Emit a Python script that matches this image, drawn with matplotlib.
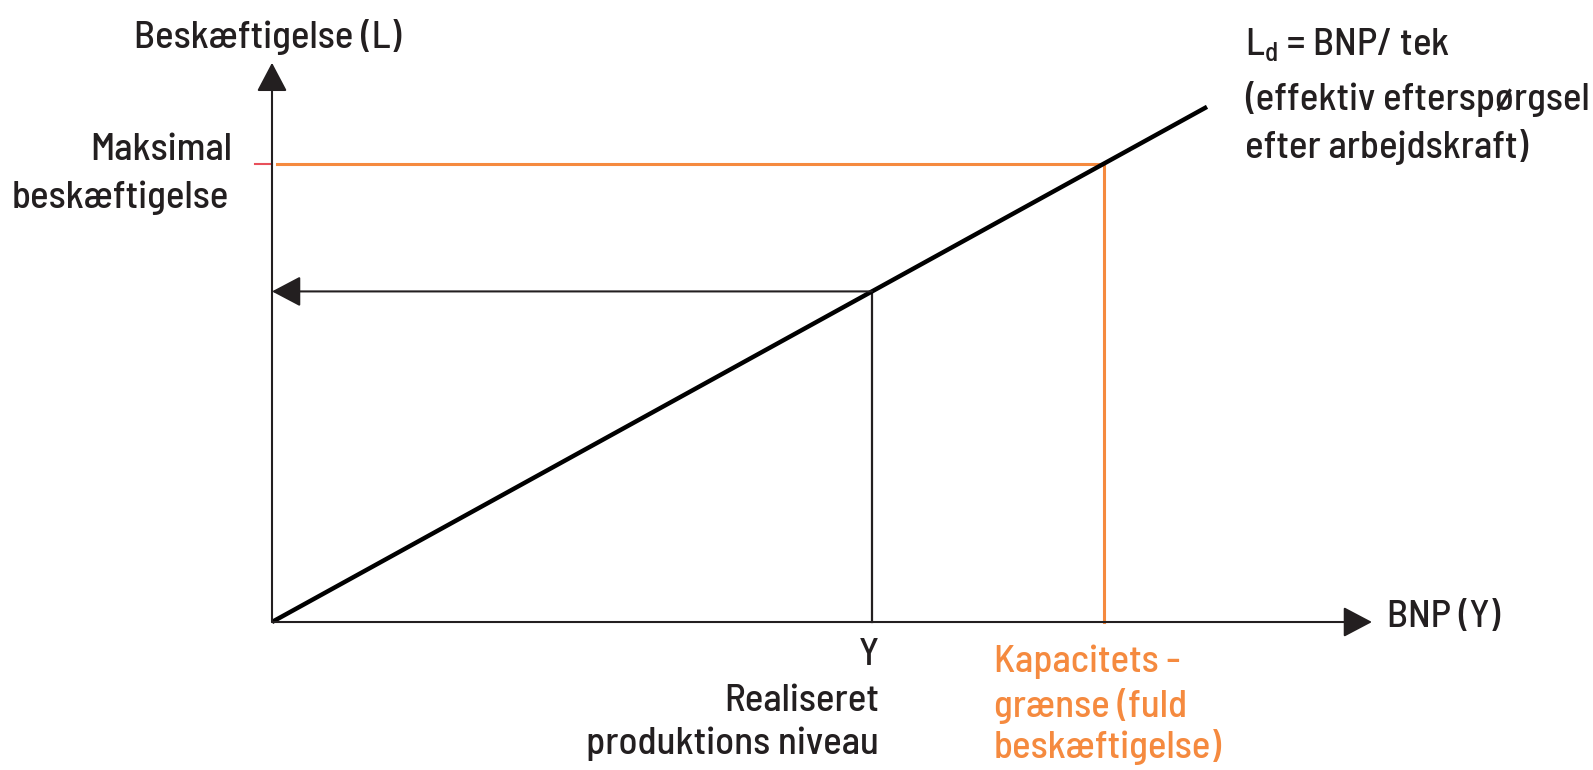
import numpy as np
import matplotlib
matplotlib.use("Agg")
import matplotlib.pyplot as plt

plt.rcParams['font.family'] = ['Barlow Semi Condensed', 'DejaVu Sans']
plt.rcParams['font.weight'] = 'medium'
plt.rcParams['mathtext.fontset'] = 'custom'
plt.rcParams['mathtext.rm'] = 'Barlow Semi Condensed:medium'

# model: L = Y / tek
tek = 1.0
Y_real = 6.0      # realiseret produktionsniveau
Y_cap = 8.32      # kapacitetsgrænse
Y_end = 9.35      # where the drawn Ld line stops
x_axis_len = 11.0
y_axis_len = 10.15

Y_line = np.array([0.0, Y_end])
L_line = Y_line / tek
L_real = Y_real / tek
L_max = Y_cap / tek

dark = '#231f20'
orange = '#f58a3f'

fig = plt.figure(figsize=(15.93, 7.70), dpi=100)
ax = fig.add_axes([0, 0, 1, 1])
ax.set_xlim(-2.72, 13.21)
ax.set_ylim(-2.686, 11.289)
ax.axis('off')

head = dict(arrowstyle='-|>,head_length=1.8,head_width=0.95', mutation_scale=10,
            shrinkA=0, shrinkB=0, color=dark, lw=1.5)

# axes
ax.annotate('', xy=(0, y_axis_len), xytext=(0, 0), arrowprops=head)
ax.annotate('', xy=(x_axis_len, 0), xytext=(0, 0), arrowprops=head)

# orange capacity lines
ax.plot([-0.17, 0], [L_max, L_max], color='#e8505b', lw=1.5)
ax.plot([0.05, Y_cap], [L_max, L_max], color=orange, lw=2.2)
ax.plot([Y_cap, Y_cap], [L_max, 0], color=orange, lw=2.2)

# realised level
ax.plot([Y_real, Y_real], [L_real, 0], color=dark, lw=1.6)
ax.annotate('', xy=(0, L_real), xytext=(Y_real, L_real), arrowprops=head)

# Ld line
ax.plot(Y_line, L_line, color='black', lw=3.2, solid_capstyle='butt')

fs = 28
def lab(text, xy, off, ha, color=dark):
    ax.annotate(text, xy=xy, xytext=off, textcoords='offset pixels',
                ha=ha, va='center', fontsize=fs, color=color)

lab('Beskæftigelse (L)', (0, y_axis_len), (-4, 26), 'center')
lab('Maksimal', (0, L_max), (-40, 14), 'right')
lab('beskæftigelse', (0, L_max), (-43, -34), 'right')

lab(r'L$_\mathregular{d}$ = BNP/ tek', (Y_end, L_line[-1]), (38, 61), 'left')
lab('(effektiv efterspørgsel', (Y_end, L_line[-1]), (38, 8), 'left')
lab('efter arbejdskraft)', (Y_end, L_line[-1]), (38, -40), 'left')

lab('BNP (Y)', (x_axis_len, 0), (15, 5), 'left')

lab('Y', (Y_real, 0), (7, -33), 'right')
lab('Realiseret', (Y_real, 0), (7, -79), 'right')
lab('produktions niveau', (Y_real, 0), (7, -122), 'right')

lab('Kapacitets -', (Y_cap, 0), (-110, -40), 'left', orange)
lab('grænse (fuld', (Y_cap, 0), (-110, -84), 'left', orange)
lab('beskæftigelse)', (Y_cap, 0), (-110, -125), 'left', orange)

fig.savefig('out.png', dpi=100)
